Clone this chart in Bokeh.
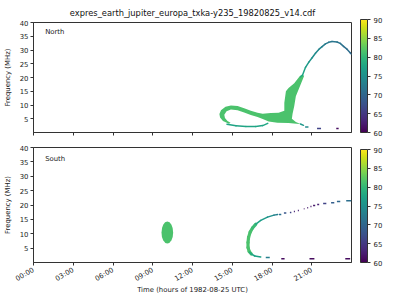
import math
from bokeh.plotting import figure
from bokeh.models import (ColumnDataSource, FixedTicker, LinearColorMapper, ColorBar,
                          Label, Range1d)
from bokeh.palettes import Viridis256
from bokeh.layouts import column
from bokeh.embed import file_html
from bokeh.resources import INLINE

TITLE = "expres_earth_jupiter_europa_txka-y235_19820825_v14.cdf"
x_ticks = [0, 3, 6, 9, 12, 15, 18, 21]
x_tick_labels = ["00:00", "03:00", "06:00", "09:00", "12:00", "15:00", "18:00", "21:00"]
y_ticks = [5, 10, 15, 20, 25, 30, 35, 40]
cbar_ticks = [60, 65, 70, 75, 80, 85, 90]
theta_low, theta_high = 60, 90

# ---------------- North hemisphere ----------------
north_band_t = [14.75, 14.30, 14.08, 14.03, 14.15, 14.49, 14.90, 15.40, 15.90, 16.40,
                16.91, 17.30, 17.90, 18.50, 18.93, 18.93, 19.05, 19.25, 19.68, 20.06,
                20.23, 20.43, 20.10, 19.80, 19.68, 19.55, 19.50, 19.80, 20.15, 19.85,
                19.25, 18.41, 17.75, 17.30, 16.91, 16.40, 15.90, 15.40, 14.90, 14.57,
                14.40, 14.45, 14.64, 14.87]
north_band_f = [3.14, 4.20, 5.44, 6.75, 8.09, 9.33, 9.79, 9.61, 8.80, 7.92,
                7.14, 6.86, 7.10, 7.21, 7.92, 10.85, 14.98, 16.15, 17.92, 20.28,
                20.99, 20.64, 16.75, 13.22, 9.68, 6.75, 4.98, 3.78, 3.07, 3.22,
                3.43, 3.57, 4.03, 4.91, 5.62, 6.40, 7.31, 8.09, 8.34, 7.74,
                6.50, 5.27, 4.20, 3.57]
north_band_theta = [81.5]

north_loop_t = [14.60, 15.28, 16.03, 16.78, 17.30, 17.68]
north_loop_f = [3.04, 2.44, 2.19, 2.16, 2.51, 3.32]
north_loop_theta = [77.5, 77.5, 77.5, 77.5, 77.5, 78]

north_arc_t = [20.15, 20.30, 20.53, 20.78, 21.03, 21.28, 21.53, 21.78, 22.03, 22.28,
               22.53, 22.91, 23.15, 23.40, 23.66, 23.90, 24.00]
north_arc_f = [20.2, 20.8, 23.7, 25.6, 27.2, 28.8, 30.2, 31.2, 32.2, 32.8,
               33.1, 32.9, 32.4, 31.3, 30.3, 29.0, 28.5]
north_arc_theta = [79, 78, 77, 76, 75, 74.5, 74, 73, 72.5, 72,
                   72, 71.5, 71.5, 71, 71, 70.5, 70.5]

north_tail_t = [20.15, 20.38]
north_tail_f = [3.07, 2.61]
north_tail_theta = [76, 76]

north_dash_t0 = [20.50, 21.40, 22.85]
north_dash_t1 = [20.75, 21.70, 23.03]
north_dash_f = [2.0, 1.45, 1.45]
north_dash_theta = [74, 66, 61]

# ---------------- South hemisphere ----------------
south_blob_t = [10.1]
south_blob_f = [10.45]
south_blob_dt = [0.88]
south_blob_df = [7.7]
south_blob_theta = [81.5]

south_thick_t = [16.44, 16.28, 16.19, 16.19, 16.23, 16.35, 16.53, 16.78]
south_thick_f = [2.96, 3.83, 5.23, 6.97, 8.71, 10.56, 12.02, 13.34]
south_thick_theta = [81, 81.5, 81.5, 81.5, 81.5, 81.5, 81, 80]

south_thin_t = [17.15, 16.70, 16.44, 16.30]
south_thin_f = [1.92, 2.26, 2.96, 3.6]
south_thin_theta = [77, 77, 78, 79]

south_upper_t = [16.78, 17.15, 17.66, 18.15, 18.43]
south_upper_f = [13.34, 14.63, 15.78, 16.48, 16.72]
south_upper_theta = [78, 77, 76, 74, 72]

south_dash_t0 = [17.53, 18.53, 18.90, 19.35, 19.65, 19.95, 20.40, 20.66, 20.90, 21.10,
                 21.41, 21.86, 22.46, 22.90, 23.60, 18.70, 20.83, 23.53]
south_dash_t1 = [17.83, 18.70, 19.08, 19.46, 19.73, 20.03, 20.45, 20.73, 20.98, 21.26,
                 21.56, 22.10, 22.70, 23.15, 24.00, 18.95, 21.20, 23.90]
south_dash_f = [1.78, 16.72, 17.18, 17.42, 17.77, 18.12, 18.70, 19.06, 19.50, 19.86,
                20.20, 20.56, 20.80, 21.25, 21.45, 1.30, 1.30, 1.30]
south_dash_theta = [73, 71, 68, 66, 63, 63, 62, 62, 62, 62,
                    63, 66, 69, 70, 71, 61, 61, 61]

FONT = "DejaVu Sans"
AX = "#333333"
TXT = "#222222"
mapper = LinearColorMapper(palette=Viridis256, low=theta_low, high=theta_high)
cmap = {"field": "theta", "transform": mapper}


def curve(p, t, f, th, width):
    src = ColumnDataSource(dict(x0=t[:-1], y0=f[:-1], x1=t[1:], y1=f[1:],
                                theta=[(a + b) / 2 for a, b in zip(th[:-1], th[1:])]))
    p.segment("x0", "y0", "x1", "y1", source=src, line_color=cmap, line_width=width,
              line_cap="round")


def dashes(p, t0, t1, f, th, width):
    src = ColumnDataSource(dict(x0=t0, x1=t1, y=f, theta=th))
    p.segment("x0", "y", "x1", "y", source=src, line_color=cmap, line_width=width,
              line_cap="butt")


def make_panel(height, b_top, b_bottom, show_x):
    p = figure(width=400, height=height, x_range=Range1d(0, 24), y_range=Range1d(0, 40),
               output_backend="svg", toolbar_location=None,
               min_border_left=31, min_border_right=49,
               min_border_top=b_top, min_border_bottom=b_bottom)
    p.xgrid.visible = False
    p.ygrid.visible = False
    p.outline_line_color = AX
    p.outline_line_width = 1
    p.yaxis.ticker = FixedTicker(ticks=y_ticks)
    if show_x:
        p.xaxis.ticker = FixedTicker(ticks=x_ticks)
        p.xaxis.major_label_overrides = {k: v for k, v in zip(x_ticks, x_tick_labels)}
    else:
        # tick marks only, no tick labels (as in the reference's upper panel)
        p.xaxis.ticker = FixedTicker(ticks=[], minor_ticks=x_ticks)
    for ax in p.axis:
        ax.major_tick_in = 0
        ax.major_tick_out = 3
        ax.minor_tick_in = 0
        ax.minor_tick_out = 0
        ax.axis_line_color = AX
        ax.major_tick_line_color = AX
        ax.minor_tick_line_color = AX
        ax.major_label_text_font = FONT
        ax.major_label_text_font_size = "6.9px"
        ax.major_label_text_color = TXT
        ax.axis_label_text_font = FONT
        ax.axis_label_text_font_size = "6.9px"
        ax.axis_label_text_font_style = "normal"
        ax.axis_label_text_color = TXT
        ax.major_label_standoff = 2
    p.yaxis.axis_label = "Frequency (MHz)"
    p.yaxis.axis_label_standoff = 5
    if show_x:
        p.xaxis.major_label_orientation = math.pi / 6
        p.xaxis.major_label_standoff = 4
        p.xaxis.axis_label = "Time (hours of 1982-08-25 UTC)"
        p.xaxis.axis_label_standoff = -3
    else:
        p.xaxis.minor_tick_out = 3
    cb = ColorBar(color_mapper=mapper, ticker=FixedTicker(ticks=cbar_ticks),
                  width=7, height=113, padding=0, margin=0, location=(9, 0),
                  major_label_text_font=FONT, major_label_text_font_size="6.9px",
                  major_label_text_color=TXT,
                  major_tick_in=0, major_tick_out=3, major_tick_line_color=AX,
                  bar_line_color=AX, label_standoff=3, minor_tick_line_color=None)
    p.add_layout(cb, "right")
    p.add_layout(Label(x=26.7, y=20, text="θ (degrees)", angle=math.pi / 2,
                       text_align="center", text_baseline="middle",
                       text_font=FONT, text_font_size="6.9px", text_color=TXT))
    return p


top = make_panel(139, 19, 7, False)
top.title.text = TITLE
top.title.align = "center"
top.title.text_font = FONT
top.title.text_font_size = "8.3px"
top.title.text_font_style = "normal"
top.title.text_color = "#111111"

band_src = ColumnDataSource(dict(xs=[north_band_t], ys=[north_band_f], theta=north_band_theta))
top.patches("xs", "ys", source=band_src, fill_color=cmap, line_color=None)
curve(top, north_loop_t, north_loop_f, north_loop_theta, 1.5)
curve(top, north_arc_t, north_arc_f, north_arc_theta, 1.5)
curve(top, north_tail_t, north_tail_f, north_tail_theta, 1.5)
dashes(top, north_dash_t0, north_dash_t1, north_dash_f, north_dash_theta, 1.5)
top.add_layout(Label(x=0.88, y=36.4, text="North", text_font=FONT, text_font_size="6.9px",
                     text_baseline="middle", text_color=TXT))

bot = make_panel(161, 8, 38, True)
bsrc = ColumnDataSource(dict(x=south_blob_t, y=south_blob_f, w=south_blob_dt,
                             h=south_blob_df, theta=south_blob_theta))
bot.ellipse("x", "y", width="w", height="h", source=bsrc, fill_color=cmap, line_color=None)
curve(bot, south_thick_t, south_thick_f, south_thick_theta, 3.2)
curve(bot, south_thin_t, south_thin_f, south_thin_theta, 1.5)
curve(bot, south_upper_t, south_upper_f, south_upper_theta, 1.5)
dashes(bot, south_dash_t0, south_dash_t1, south_dash_f, south_dash_theta, 1.5)
bot.add_layout(Label(x=0.88, y=36.1, text="South", text_font=FONT, text_font_size="6.9px",
                     text_baseline="middle", text_color=TXT))

layout = column(top, bot, spacing=0)
open("out.html", "w").write(file_html(layout, INLINE))
